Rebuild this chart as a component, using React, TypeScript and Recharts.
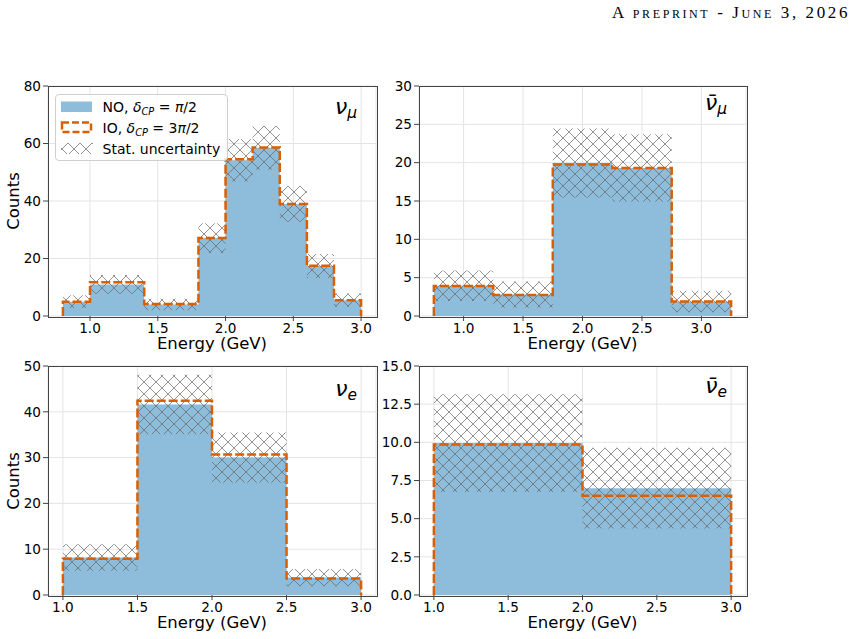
import React from "react";
import { ComposedChart, Area, Line, XAxis, YAxis, CartesianGrid } from "recharts";

const BLUE = "#8dbddb";
const ORANGE = "#d95f02";
const FONT = "'DejaVu Sans', Verdana, sans-serif";

// nu_mu  (top left)
const numuEdges = [0.8, 1.0, 1.4, 1.8, 2.0, 2.2, 2.4, 2.6, 2.8, 3.0];
const numuNO = [5.0, 11.0, 4.0, 27.1, 54.2, 58.5, 39.0, 17.4, 5.5];
const numuIO = [5.0, 11.7, 4.2, 27.1, 54.5, 58.6, 39.0, 17.5, 5.5];
const numuErr = [2.2, 3.3, 2.0, 5.2, 7.4, 7.6, 6.2, 4.2, 2.3];

// anti nu_mu  (top right)
const numubarEdges = [0.75, 1.25, 1.75, 2.25, 2.75, 3.25];
const numubarNO = [3.95, 2.8, 19.95, 19.3, 1.9];
const numubarIO = [3.9, 2.75, 19.75, 19.3, 1.9];
const numubarErr = [2.0, 1.7, 4.5, 4.4, 1.4];

// nu_e  (bottom left)
const nueEdges = [1.0, 1.5, 2.0, 2.5, 3.0];
const nueNO = [8.2, 41.6, 30.0, 3.8];
const nueIO = [7.9, 42.4, 30.7, 3.6];
const nueErr = [2.9, 6.5, 5.5, 1.9];

// anti nu_e  (bottom right)
const nuebarEdges = [1.0, 2.0, 3.0];
const nuebarNO = [9.95, 7.0];
const nuebarIO = [9.85, 6.5];
const nuebarErr = [3.2, 2.65];

const xTicks = [1.0, 1.5, 2.0, 2.5, 3.0];

type Row = { x: number; no?: number; io?: number; band?: [number, number] };

// step rows: one point per bin edge, plus drops to zero for the IO outline
function buildRows(edges: number[], no: number[], io: number[], err: number[]): Row[] {
  const rows: Row[] = [{ x: edges[0], io: 0 }];
  edges.forEach((x, i) => {
    const k = Math.min(i, no.length - 1);
    rows.push({ x, no: no[k], io: io[k], band: [no[k] - err[k], no[k] + err[k]] });
  });
  rows.push({ x: edges[edges.length - 1], io: 0 });
  return rows;
}

function Hatch({ id }: { id: string }) {
  return (
    <pattern id={id} patternUnits="userSpaceOnUse" width={12} height={12}>
      <path d="M0,0L12,12M12,0L0,12" stroke="#666" strokeOpacity={0.7} strokeWidth={1} />
    </pattern>
  );
}

interface PanelProps {
  id: string;
  left: number;
  top: number;
  w: number;
  h: number;
  rows: Row[];
  xDomain: [number, number];
  yDomain: [number, number];
  yTicks: number[];
  yFmt: (v: number) => string;
  yLabel?: boolean;
  sym: React.ReactNode;
  symBase: number;
}

function Panel({ id, left, top, w, h, rows, xDomain, yDomain, yTicks, yFmt, yLabel, sym, symBase }: PanelProps) {
  const PL = 48, PT = 20, PR = 10, PB = 40;
  const tick = { fontSize: 13.6, fill: "#000", fontFamily: FONT };
  return (
    <>
      <div style={{ position: "absolute", left: left - PL, top: top - PT }}>
        <ComposedChart
          width={w + PL + PR}
          height={h + PT + PB}
          data={rows}
          margin={{ top: PT, right: PR, left: 0, bottom: 0 }}
        >
          <defs>
            <Hatch id={id} />
          </defs>
          <CartesianGrid stroke="#e4e4e4" strokeWidth={1} />
          <XAxis
            dataKey="x"
            type="number"
            domain={xDomain}
            ticks={xTicks}
            allowDataOverflow
            height={PB}
            axisLine={false}
            tickSize={5}
            tickMargin={2}
            tickLine={{ stroke: "#444" }}
            tick={tick}
            tickFormatter={(v: number) => v.toFixed(1)}
          />
          <YAxis
            type="number"
            domain={yDomain}
            ticks={yTicks}
            allowDataOverflow
            width={PL}
            axisLine={false}
            tickSize={5}
            tickMargin={2}
            tickLine={{ stroke: "#444" }}
            tick={tick}
            tickFormatter={yFmt}
          />
          <Area
            dataKey="no"
            type="stepAfter"
            stroke="none"
            fill={BLUE}
            fillOpacity={1}
            baseValue={0}
            dot={false}
            activeDot={false}
            isAnimationActive={false}
          />
          <Area
            dataKey="band"
            type="stepAfter"
            stroke="none"
            fill={`url(#${id})`}
            fillOpacity={1}
            dot={false}
            activeDot={false}
            isAnimationActive={false}
          />
          <Line
            dataKey="io"
            type="stepAfter"
            stroke={ORANGE}
            strokeWidth={2.5}
            strokeDasharray="9 3"
            dot={false}
            activeDot={false}
            isAnimationActive={false}
          />
        </ComposedChart>
      </div>
      <div
        style={{
          position: "absolute",
          left: left - 0.5,
          top: top - 0.5,
          width: w,
          height: h,
          border: "1px solid #444",
          pointerEvents: "none",
        }}
      />
      <div
        style={{
          position: "absolute",
          left: left + w / 2,
          top: top + h + 20.5,
          transform: "translateX(-50%)",
          fontSize: 16.5,
          lineHeight: "14px",
          whiteSpace: "nowrap",
        }}
      >
        Energy (GeV)
      </div>
      {yLabel && (
        <div
          style={{
            position: "absolute",
            left: 13.5,
            top: top + h / 2,
            transform: "translate(-50%, -50%) rotate(-90deg)",
            fontSize: 16.5,
            lineHeight: "16px",
            whiteSpace: "nowrap",
          }}
        >
          Counts
        </div>
      )}
      <div
        style={{
          position: "absolute",
          left: left + w - 19,
          top: top + symBase - 18.6,
          transform: "translateX(-100%)",
          fontSize: 22,
          lineHeight: "22px",
          fontStyle: "italic",
          whiteSpace: "nowrap",
        }}
      >
        {sym}
      </div>
    </>
  );
}

const subStyle: React.CSSProperties = { fontSize: "0.7em", verticalAlign: "-0.25em", lineHeight: 0 };

function Legend() {
  const txt: React.CSSProperties = {
    position: "absolute",
    left: 46.5,
    fontSize: 14,
    lineHeight: "16px",
    whiteSpace: "nowrap",
  };
  const sub: React.CSSProperties = { fontSize: "0.7em", verticalAlign: "-0.3em", lineHeight: 0, fontStyle: "italic" };
  return (
    <div
      style={{
        position: "absolute",
        left: 55,
        top: 94,
        width: 173,
        height: 67,
        boxSizing: "border-box",
        border: "1px solid #cfcfcf",
        borderRadius: 4,
        background: "rgba(255,255,255,0.85)",
      }}
    >
      <svg style={{ position: "absolute", left: 0, top: 0 }} width={173} height={67}>
        <defs>
          <Hatch id="hatch-legend" />
        </defs>
        <rect x={5} y={6.5} width={31} height={10.5} fill={BLUE} />
        <rect
          x={6}
          y={27.5}
          width={29}
          height={9.5}
          fill="#fff"
          stroke={ORANGE}
          strokeWidth={2.5}
          strokeDasharray="7 3"
        />
        <rect x={5} y={48} width={32} height={11} fill="url(#hatch-legend)" />
      </svg>
      <div style={{ ...txt, top: 4 }}>
        NO, <i>δ</i>
        <span style={sub}>CP</span> = <i>π</i>/2
      </div>
      <div style={{ ...txt, top: 25 }}>
        IO, <i>δ</i>
        <span style={sub}>CP</span> = 3<i>π</i>/2
      </div>
      <div style={{ ...txt, top: 46 }}>Stat. uncertainty</div>
    </div>
  );
}

export default function App() {
  const intFmt = (v: number) => String(v);
  const oneFmt = (v: number) => v.toFixed(1);
  return (
    <div
      style={{
        position: "absolute",
        left: 0,
        top: 0,
        width: 849,
        height: 639,
        background: "#fff",
        overflow: "hidden",
        fontFamily: FONT,
        color: "#000",
      }}
    >
      <div
        style={{
          position: "absolute",
          right: -1,
          top: 4,
          fontFamily: "'Liberation Serif', 'Times New Roman', serif",
          fontSize: 17,
          lineHeight: "18px",
          fontVariant: "small-caps",
          letterSpacing: 2.6,
          whiteSpace: "nowrap",
        }}
      >
        A preprint - June 3, 2026
      </div>

      <Panel
        id="h1"
        left={48}
        top={86}
        w={328}
        h={230}
        rows={buildRows(numuEdges, numuNO, numuIO, numuErr)}
        xDomain={[0.69, 3.11]}
        yDomain={[0, 80]}
        yTicks={[0, 20, 40, 60, 80]}
        yFmt={intFmt}
        yLabel
        symBase={28.5}
        sym={
          <>
            ν<span style={subStyle}>μ</span>
          </>
        }
      />
      <Panel
        id="h2"
        left={419}
        top={86}
        w={327}
        h={230}
        rows={buildRows(numubarEdges, numubarNO, numubarIO, numubarErr)}
        xDomain={[0.625, 3.375]}
        yDomain={[0, 30]}
        yTicks={[0, 5, 10, 15, 20, 25, 30]}
        yFmt={intFmt}
        symBase={25}
        sym={
          <>
            ν̄<span style={subStyle}>μ</span>
          </>
        }
      />
      <Panel
        id="h3"
        left={48}
        top={366}
        w={328}
        h={229}
        rows={buildRows(nueEdges, nueNO, nueIO, nueErr)}
        xDomain={[0.9, 3.1]}
        yDomain={[0, 50]}
        yTicks={[0, 10, 20, 30, 40, 50]}
        yFmt={intFmt}
        yLabel
        symBase={30.5}
        sym={
          <>
            ν<span style={subStyle}>e</span>
          </>
        }
      />
      <Panel
        id="h4"
        left={419}
        top={366}
        w={327}
        h={229}
        rows={buildRows(nuebarEdges, nuebarNO, nuebarIO, nuebarErr)}
        xDomain={[0.9, 3.1]}
        yDomain={[0, 15]}
        yTicks={[0, 2.5, 5, 7.5, 10, 12.5, 15]}
        yFmt={oneFmt}
        symBase={28}
        sym={
          <>
            ν̄<span style={subStyle}>e</span>
          </>
        }
      />
      <Legend />
    </div>
  );
}
